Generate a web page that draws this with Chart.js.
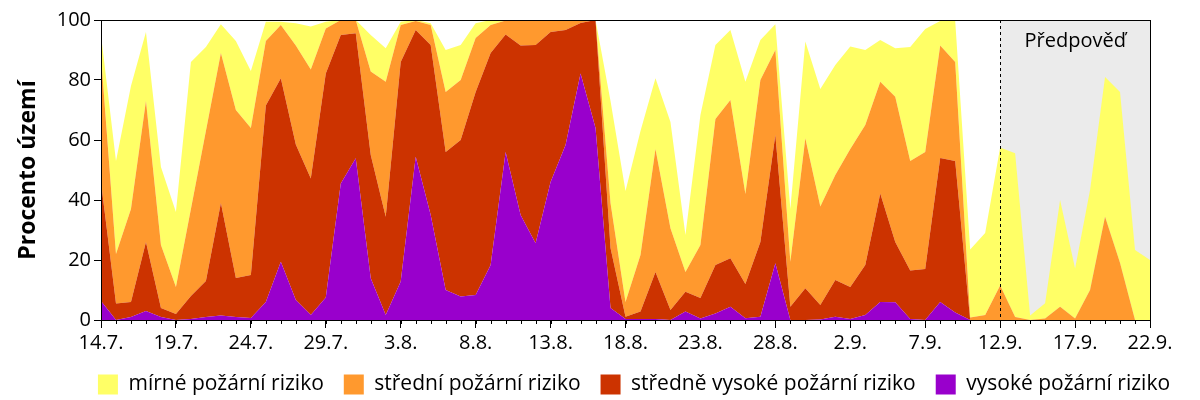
<!DOCTYPE html>
<html lang="cs">
<head>
  <meta charset="UTF-8" />
  <title>Procento území – požární riziko</title>
  <script src="https://cdn.jsdelivr.net/npm/chart.js"></script>
  <style>
    body { margin: 0; background: #fff; }
    #wrap { width: 1200px; height: 400px; }
  </style>
</head>
<body>
<div id="wrap"><canvas id="chart"></canvas></div>
<script>
  // one value per day, 14.7. – 22.9.
  const days = [
    "14.7.","15.7.","16.7.","17.7.","18.7.","19.7.","20.7.","21.7.","22.7.","23.7.",
    "24.7.","25.7.","26.7.","27.7.","28.7.","29.7.","30.7.","31.7.",
    "1.8.","2.8.","3.8.","4.8.","5.8.","6.8.","7.8.","8.8.","9.8.","10.8.",
    "11.8.","12.8.","13.8.","14.8.","15.8.","16.8.","17.8.","18.8.","19.8.","20.8.",
    "21.8.","22.8.","23.8.","24.8.","25.8.","26.8.","27.8.","28.8.","29.8.","30.8.","31.8.",
    "1.9.","2.9.","3.9.","4.9.","5.9.","6.9.","7.9.","8.9.","9.9.","10.9.",
    "11.9.","12.9.","13.9.","14.9.","15.9.","16.9.","17.9.","18.9.","19.9.","20.9.","21.9.","22.9."
  ];
  const forecastFrom = "12.9.";

  // percent of territory per risk class (stacked bottom -> top)
  const vysoke = [
    6.3, 0, 1, 3, 1, 0, 0.3, 1, 1.5, 1, 0.7, 6, 19.4, 6.7, 1.7, 7.5, 45.5, 53.9,
    13.9, 1.7, 12.8, 54.4, 35, 10, 7.8, 8.3, 18.3, 56, 35, 25.6, 46, 58.3, 82.2, 64,
    4, 0.3, 0.3, 0.3, 0, 2.8, 0.5, 2.2, 4.4, 0.6, 1.1, 18.9, 0, 0, 0.2, 1.1,
    0.3, 1.7, 6, 5.9, 0.3, 0, 6, 2.5, 0, 0, 0, 0, 0, 0, 0, 0, 0, 0, 0, 0, 0
  ];
  const stredneVysoke = [
    39.7, 5.5, 5, 23, 3, 2, 7.7, 12, 37.5, 13, 14.3, 65.5, 61.2, 51.8, 45.5, 74.7, 49.5, 41.7,
    41.1, 32.7, 73.2, 42.3, 56.7, 46, 52.2, 67.7, 70.7, 39.2, 56.5, 66.1, 50, 38.4, 16.8, 36,
    20, 0.8, 2.5, 15.7, 3.3, 6.6, 6.8, 16.1, 16.2, 11.4, 24.9, 42.8, 4.4, 10.6, 4.8, 12.2,
    10.7, 16.6, 36.2, 20.1, 16.2, 17, 48, 50.5, 0, 0, 0, 0, 0, 0, 0, 0, 0, 0, 0, 0, 0
  ];
  const stredni = [
    42, 16.5, 31, 47, 21, 9, 29, 50, 50, 56, 49, 21.5, 17.7, 33, 36.3, 15, 5, 4.4,
    27.8, 45, 12.3, 3, 6.6, 20, 20, 18, 9.3, 4.6, 8.5, 8.3, 3.8, 3.3, 1, 0,
    15, 4.9, 18.9, 41, 27.3, 6.6, 17.7, 48.7, 52.7, 30, 54, 28.3, 15, 50, 32.8, 35,
    46, 46.7, 37.2, 48.4, 36.5, 39, 37.5, 33, 0.8, 1.7, 11.5, 1, 0, 0.5, 4.4, 0.5, 10, 34.4, 19, 0, 0
  ];
  const mirne = [
    7, 31, 41, 23, 26, 25, 49, 28, 9.6, 23, 19, 6.4, 1.1, 7.4, 14.3, 2.2, 0, 0,
    12.2, 11.2, 1.1, 0.3, 0.6, 14, 11.7, 4.9, 1.7, 0.2, 0, 0, 0.2, 0, 0, 0,
    34, 37, 41.3, 23.6, 35.4, 12.3, 43.3, 24.7, 23.4, 37.4, 13.3, 8.6, 17.6, 32.2, 39.2, 36.7,
    34.2, 25, 13.9, 16.2, 38, 41, 8.2, 13.8, 22.7, 27.3, 46, 54.6, 1.5, 5.1, 35.6, 16.7, 33.3, 46.6, 57, 23.3, 20
  ];

  const yTicks = [0, 20, 40, 60, 80, 100];

  Chart.defaults.font.family = "'Open Sans', sans-serif";
  Chart.defaults.font.size = 20;
  Chart.defaults.color = "#000";

  function area(label, data, color, fill) {
    return {
      label, data, fill,
      backgroundColor: color, borderColor: color, borderWidth: 0,
      pointRadius: 0, pointHoverRadius: 0, tension: 0
    };
  }

  // grey forecast band, dashed divider, caption and the plot frame
  const forecastPlugin = {
    id: "forecast",
    afterLayout(chart) {
      // nudge the legend so it sits under the plot like the original
      chart.legend.left += 59;
      chart.legend.right += 59;
      chart.legend.top -= 4;
      chart.legend.bottom -= 4;
    },
    beforeDatasetsDraw(chart) {
      const { ctx, chartArea: a, scales: { x } } = chart;
      const x0 = x.getPixelForValue(days.indexOf(forecastFrom));
      ctx.save();
      ctx.fillStyle = "#ebebeb";
      ctx.fillRect(x0, a.top, a.right - x0, a.bottom - a.top);
      ctx.restore();
    },
    afterDatasetsDraw(chart) {
      const { ctx, chartArea: a, scales: { x } } = chart;
      const x0 = Math.round(x.getPixelForValue(days.indexOf(forecastFrom))) + 0.5;
      ctx.save();
      ctx.strokeStyle = "#000";
      ctx.lineWidth = 1;
      ctx.setLineDash([3, 3]);
      ctx.beginPath();
      ctx.moveTo(x0, a.top);
      ctx.lineTo(x0, a.bottom);
      ctx.stroke();
      ctx.setLineDash([]);
      ctx.strokeRect(Math.round(a.left) + 0.5, Math.round(a.top) + 0.5,
        Math.round(a.right - a.left), Math.round(a.bottom - a.top));
      // minor day ticks
      ctx.beginPath();
      days.forEach((d, i) => {
        const px = Math.round(x.getPixelForValue(i)) + 0.5;
        ctx.moveTo(px, a.bottom);
        ctx.lineTo(px, a.bottom + 4);
      });
      ctx.stroke();
      ctx.fillStyle = "#000";
      ctx.font = "20px 'Open Sans', sans-serif";
      ctx.textAlign = "center";
      ctx.textBaseline = "middle";
      ctx.fillText("Předpověď", (x0 + a.right) / 2, a.top + 21);
      ctx.restore();
    }
  };

  new Chart(document.getElementById("chart"), {
    type: "line",
    data: {
      labels: days,
      datasets: [
        area("vysoké požární riziko", vysoke, "#9900cc", "origin"),
        area("středně vysoké požární riziko", stredneVysoke, "#cc3300", "-1"),
        area("střední požární riziko", stredni, "#ff992e", "-1"),
        area("mírné požární riziko", mirne, "#ffff66", "-1")
      ]
    },
    options: {
      responsive: true,
      maintainAspectRatio: false,
      animation: false,
      layout: { padding: { top: 20, right: 50, bottom: -9, left: 0 } },
      plugins: {
        tooltip: { enabled: false },
        legend: {
          position: "bottom",
          reverse: true,
          labels: { boxWidth: 20, boxHeight: 20, padding: 20, font: { size: 21 } }
        }
      },
      scales: {
        x: {
          type: "category",
          offset: false,
          border: { color: "#000", width: 1 },
          grid: {
            drawOnChartArea: false,
            tickLength: 8,
            tickColor: ctx => (ctx.index % 5 === 0 ? "#000" : "rgba(0,0,0,0)")
          },
          ticks: {
            autoSkip: false,
            maxRotation: 0,
            padding: 3,
            callback: (v, i) => (i % 5 === 0 ? days[i] : "")
          }
        },
        y: {
          stacked: true,
          min: 0,
          max: 100,
          afterFit(scale) { scale.width = 101; },
          afterBuildTicks(scale) { scale.ticks = yTicks.map(v => ({ value: v })); },
          border: { color: "#000", width: 1 },
          grid: { drawOnChartArea: false, tickLength: 7, tickColor: "#000" },
          ticks: { padding: 3 },
          title: {
            display: true,
            text: "Procento území",
            font: { size: 23, weight: "bold" },
            padding: { top: 15, bottom: 0 }
          }
        }
      }
    },
    plugins: [forecastPlugin]
  });
</script>
</body>
</html>
